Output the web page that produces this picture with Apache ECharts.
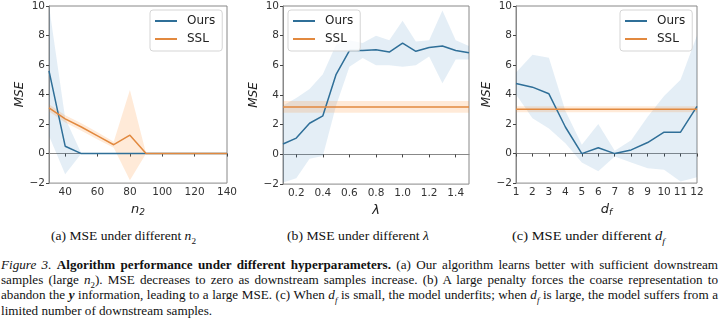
<!DOCTYPE html>
<html><head><meta charset="utf-8">
<script src="https://cdn.jsdelivr.net/npm/echarts@6/dist/echarts.min.js"></script>
<style>
body{margin:0;background:#fff;}
#chart{position:absolute;left:0;top:0;width:720px;height:222px;}
.sub{position:absolute;top:229px;font:12.5px 'Liberation Serif',serif;color:#111;white-space:nowrap;transform-origin:0 50%;}
.cap{position:absolute;left:1px;top:258px;font:12.5px 'Liberation Serif',serif;color:#111;line-height:15.2px;}
.cap div{white-space:nowrap;}
.cap span{display:inline-block;transform-origin:0 50%;}
sub{font-size:8.5px;line-height:0;}
</style></head>
<body>
<div id="chart"></div>
<div class="sub" id="sa" style="left:51px">(a) MSE under different <i>n</i><sub>2</sub></div>
<div class="sub" id="sb" style="left:287px">(b) MSE under different <i>λ</i></div>
<div class="sub" id="sc" style="left:512px">(c) MSE under different <i>d<sub>f</sub></i></div>
<div class="cap">
<div><span class="ln"><i>Figure 3.</i> <b>Algorithm performance under different hyperparameters.</b> (a) Our algorithm learns better with sufficient downstream</span></div>
<div><span class="ln">samples (large <i>n</i><sub>2</sub>). MSE decreases to zero as downstream samples increase. (b) A large penalty forces the coarse representation to</span></div>
<div><span class="ln">abandon the <b><i>y</i></b> information, leading to a large MSE. (c) When <i>d<sub>f</sub></i> is small, the model underfits; when <i>d<sub>f</sub></i> is large, the model suffers from a</span></div>
<div><span class="ln last">limited number of downstream samples.</span></div>
</div>
<script>
// ---- Panel (a): n2 ----
const n2Values   = [30, 40, 50, 60, 70, 80, 90, 100, 110, 120, 130, 140];
const oursN2     = [5.6, 0.5, 0, 0, 0, 0, 0, 0, 0, 0, 0, 0];
const oursN2Lo   = [1.2, -1.4, 0, 0, 0, 0, 0, 0, 0, 0, 0, 0];
const oursN2Hi   = [10.0, 2.4, 0, 0, 0, 0, 0, 0, 0, 0, 0, 0];
const sslN2      = [3.1, 2.35, 1.8, 1.2, 0.6, 1.25, 0, 0, 0, 0, 0, 0];
const sslN2Lo    = [2.85, 2.1, 1.55, 0.95, 0.4, -1.8, 0, 0, 0, 0, 0, 0];
const sslN2Hi    = [3.35, 2.6, 2.05, 1.45, 0.8, 4.3, 0, 0, 0, 0, 0, 0];
const n2Ticks    = [40, 60, 80, 100, 120, 140];
// ---- Panel (b): lambda ----
const lamValues  = [0.1, 0.2, 0.3, 0.4, 0.5, 0.6, 0.7, 0.8, 0.9, 1.0, 1.1, 1.2, 1.3, 1.4, 1.5];
const oursLam    = [0.7, 1.1, 2.1, 2.6, 5.4, 7.0, 7.0, 7.05, 6.9, 7.5, 6.95, 7.2, 7.3, 7.0, 6.85];
const oursLamLo  = [-1.9, -1.6, -0.3, -0.1, 3.3, 5.9, 6.5, 6.0, 6.0, 5.9, 6.0, 6.6, 4.8, 6.4, 6.4];
const oursLamHi  = [3.3, 3.8, 4.4, 5.4, 7.4, 7.7, 7.5, 8.0, 7.7, 9.0, 7.6, 7.7, 9.7, 7.7, 7.3];
const sslLam     = [3.2, 3.2, 3.2, 3.2, 3.2, 3.2, 3.2, 3.2, 3.2, 3.2, 3.2, 3.2, 3.2, 3.2, 3.2];
const sslLamLo   = [2.8, 2.8, 2.8, 2.8, 2.8, 2.8, 2.8, 2.8, 2.8, 2.8, 2.8, 2.8, 2.8, 2.8, 2.8];
const sslLamHi   = [3.6, 3.6, 3.6, 3.6, 3.6, 3.6, 3.6, 3.6, 3.6, 3.6, 3.6, 3.6, 3.6, 3.6, 3.6];
const lamTicks   = [0.2, 0.4, 0.6, 0.8, 1.0, 1.2, 1.4];
// ---- Panel (c): d_f ----
const dfValues   = [1, 2, 3, 4, 5, 6, 7, 8, 9, 10, 11, 12];
const oursDf     = [4.75, 4.5, 4.05, 1.8, 0, 0.4, 0, 0.25, 0.75, 1.45, 1.45, 3.2];
const oursDfLo   = [4.0, 2.4, 1.7, 0.7, -0.6, -1.2, -0.2, -0.6, -1.0, -1.1, -1.9, -1.6];
const oursDfHi   = [5.5, 6.7, 6.5, 2.9, 0.6, 2.0, 0.2, 0.9, 2.5, 3.9, 5.0, 8.0];
const sslDf      = [3.0, 3.0, 3.0, 3.0, 3.0, 3.0, 3.0, 3.0, 3.0, 3.0, 3.0, 3.0];
const sslDfLo    = [2.8, 2.8, 2.8, 2.8, 2.8, 2.8, 2.8, 2.8, 2.8, 2.8, 2.8, 2.8];
const sslDfHi    = [3.2, 3.2, 3.2, 3.2, 3.2, 3.2, 3.2, 3.2, 3.2, 3.2, 3.2, 3.2];
// ---- y axis ----
const yMin = -2, yMax = 10, yStep = 2;

const BLUE = '#2f6f98', ORANGE = '#e2893f';
const BLUE_BAND = 'rgba(31,119,180,0.12)', ORANGE_BAND = 'rgba(255,127,14,0.16)';
const FONT = 'DejaVu Sans';

function band(xs, lo, hi, color, gi) {
  return {
    type: 'custom', xAxisIndex: gi, yAxisIndex: gi, silent: true, z: 1, clip: true,
    data: xs.map((x, i) => [x, lo[i], hi[i]]),
    encode: { x: 0, y: [1, 2] },
    renderItem: function (params, api) {
      if (params.dataIndex !== 0) return;
      const pts = [];
      for (let i = 0; i < xs.length; i++) pts.push(api.coord([xs[i], hi[i]]));
      for (let i = xs.length - 1; i >= 0; i--) pts.push(api.coord([xs[i], lo[i]]));
      return { type: 'polygon', shape: { points: pts }, style: { fill: color } };
    }
  };
}
function line(name, xs, ys, color, gi) {
  return {
    name: name, type: 'line', xAxisIndex: gi, yAxisIndex: gi, z: 3,
    data: xs.map((x, i) => [x, ys[i]]), showSymbol: false, symbol: 'none',
    lineStyle: { color: color, width: 1.5 }, itemStyle: { color: color }, silent: true
  };
}
const grids = [
  { left: 49, top: 6, width: 178, height: 188 },
  { left: 283, top: 6, width: 186, height: 188 },
  { left: 516, top: 6, width: 181, height: 188 }
].map(g => Object.assign(g, { show: true, borderColor: '#888', borderWidth: 1, backgroundColor: 'transparent' }));

const labelStyle = { color: '#333', fontSize: 10.5, fontFamily: FONT };
function xAxis(gi, min, max, ticks, name, fmt, interval) {
  const ax = {
    type: 'value', gridIndex: gi, min: min, max: max,
    splitLine: { show: false },
    axisLine: { show: true, lineStyle: { color: '#888' } },
    axisTick: { show: true, length: 3, lineStyle: { color: '#444' } },
    axisLabel: Object.assign({ margin: 4, formatter: fmt }, labelStyle),
    name: name, nameLocation: 'middle', nameGap: 11,
    nameTextStyle: {
      color: '#222', fontFamily: FONT,
      rich: {
        i: { fontSize: 13, fontStyle: 'italic', fontFamily: FONT, color: '#222' },
        s: { fontSize: 9, fontStyle: 'italic', fontFamily: FONT, color: '#222', verticalAlign: 'bottom', padding: [6, 0, 0, 0] }
      }
    }
  };
  if (ticks) { ax.axisLabel.customValues = ticks; ax.axisTick.customValues = ticks; }
  if (interval) ax.interval = interval;
  return ax;
}
function yAxis(gi) {
  return {
    type: 'value', gridIndex: gi, min: yMin, max: yMax, interval: yStep,
    splitLine: { show: false },
    axisLine: { show: true, lineStyle: { color: '#888' } },
    axisTick: { show: true, length: 3, lineStyle: { color: '#444' } },
    axisLabel: Object.assign({ margin: 4, formatter: v => v < 0 ? '\u2212' + Math.abs(v) : String(v) }, labelStyle),
    name: 'MSE', nameLocation: 'middle', nameGap: 17,
    nameTextStyle: { color: '#222', fontSize: 12, fontStyle: 'italic', fontFamily: FONT }
  };
}
function legend(left) {
  return {
    left: left, top: 10, orient: 'vertical', data: ['Ours', 'SSL'],
    icon: 'rect', itemWidth: 22, itemHeight: 2, itemGap: 6,
    padding: [5, 7, 6, 5], borderColor: '#d5d5d5', borderWidth: 1, borderRadius: 3,
    backgroundColor: 'rgba(255,255,255,0.8)', selectedMode: false,
    textStyle: { color: '#222', fontSize: 12, fontFamily: FONT, padding: [0, 0, 0, 5] }
  };
}

const chart = echarts.init(document.getElementById('chart'), null, { renderer: 'canvas' });
chart.setOption({
  animation: false,
  grid: grids,
  legend: [legend(150), legend(288), legend(620)],
  xAxis: [
    xAxis(0, 30, 140, n2Ticks, '{i|n}{s|2}', v => String(v)),
    xAxis(1, 0.1, 1.5, lamTicks, '{i|λ}', v => v.toFixed(1)),
    xAxis(2, 1, 12, null, '{i|d}{s|f}', v => String(v), 1)
  ],
  yAxis: [yAxis(0), yAxis(1), yAxis(2)],
  series: [
    band(n2Values, oursN2Lo, oursN2Hi, BLUE_BAND, 0),
    band(n2Values, sslN2Lo, sslN2Hi, ORANGE_BAND, 0),
    line('Ours', n2Values, oursN2, BLUE, 0),
    line('SSL', n2Values, sslN2, ORANGE, 0),
    band(lamValues, oursLamLo, oursLamHi, BLUE_BAND, 1),
    band(lamValues, sslLamLo, sslLamHi, ORANGE_BAND, 1),
    line('Ours', lamValues, oursLam, BLUE, 1),
    line('SSL', lamValues, sslLam, ORANGE, 1),
    band(dfValues, oursDfLo, oursDfHi, BLUE_BAND, 2),
    band(dfValues, sslDfLo, sslDfHi, ORANGE_BAND, 2),
    line('Ours', dfValues, oursDf, BLUE, 2),
    line('SSL', dfValues, sslDf, ORANGE, 2)
  ]
});

// ---- caption layout: stretch glyphs slightly, fit full lines to the text width ----
(function () {
  const W = 717, S = 1.05;
  document.querySelectorAll('.cap .ln').forEach(el => {
    if (el.classList.contains('last')) { el.style.transform = 'scaleX(' + S + ')'; return; }
    const w = el.getBoundingClientRect().width;
    const n = (el.textContent.match(/ /g) || []).length;
    const ws = (W / S - w) / n;
    el.style.wordSpacing = ws + 'px';
    const w2 = el.getBoundingClientRect().width;
    el.style.transform = 'scaleX(' + (W / w2) + ')';
  });
  [['sa', 145], ['sb', 142], ['sc', 153]].forEach(([id, tw]) => {
    const el = document.getElementById(id);
    const w = el.getBoundingClientRect().width;
    el.style.transform = 'scaleX(' + (tw / w) + ')';
  });
})();
</script>
</body></html>
